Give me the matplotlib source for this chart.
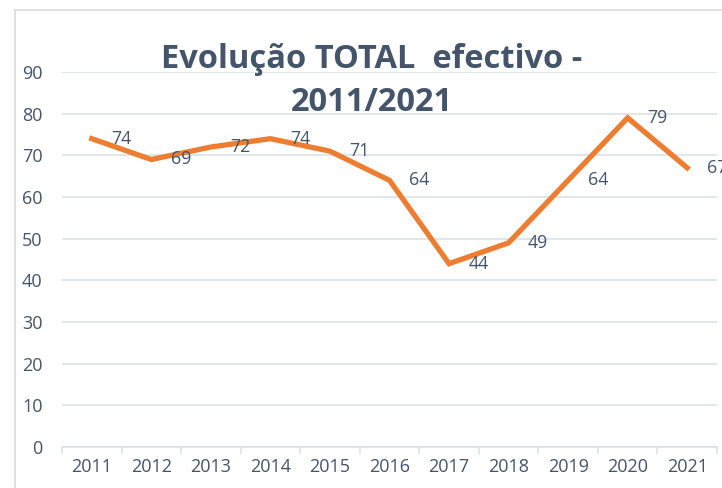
import matplotlib
matplotlib.use("Agg")
import matplotlib.pyplot as plt
from matplotlib.lines import Line2D

years = ["2011", "2012", "2013", "2014", "2015", "2016", "2017", "2018", "2019", "2020", "2021"]
efectivo = [74, 69, 72, 74, 71, 64, 44, 49, 64, 79, 67]
y_ticks = [0, 10, 20, 30, 40, 50, 60, 70, 80, 90]

TEXT = "#44546A"
GRID = "#DCE1E8"
ORANGE = "#ED7D31"

plt.rcParams["font.family"] = ["Open Sans", "DejaVu Sans"]

fig = plt.figure(figsize=(7.22, 4.88), dpi=100)
ax = fig.add_axes([62 / 722, 1 - 447 / 488, (717 - 62) / 722, (447 - 72) / 488])

x = list(range(len(years)))
ax.plot(x, efectivo, color=ORANGE, linewidth=3.8, solid_joinstyle="miter", zorder=3)

# data labels to the right of each point (last one runs off the edge, as in the original)
for xi, v in zip(x, efectivo):
    ax.annotate(str(v), xy=(xi, v), xytext=(14, 0), textcoords="offset points",
                ha="left", va="center", fontsize=12.8, color=TEXT, zorder=4,
                annotation_clip=False)

ax.set_xlim(-0.5, len(years) - 0.5)
ax.set_ylim(0, 90)
ax.set_yticks(y_ticks)
ax.set_xticks(x)
ax.set_xticklabels(years)
ax.set_xticks([i - 0.5 for i in range(len(years) + 1)], minor=True)

ax.grid(axis="y", color=GRID, linewidth=1.2, zorder=0)
ax.set_axisbelow(True)
for s in ("left", "right", "top"):
    ax.spines[s].set_visible(False)
ax.spines["bottom"].set_color(GRID)
ax.spines["bottom"].set_linewidth(1.2)

ax.tick_params(axis="y", length=0, pad=14, labelsize=13, labelcolor=TEXT)
ax.tick_params(axis="x", which="major", length=0, pad=8, labelsize=13, labelcolor=TEXT)
ax.tick_params(axis="x", which="minor", length=5, width=1.2, color=GRID)

# title sits over the top gridlines
fig.text(372 / 722, 1 - 81 / 488, "Evolução TOTAL  efectivo -\n2011/2021",
         ha="center", va="center", fontsize=23.5, fontweight="bold", color=TEXT,
         linespacing=1.38, zorder=5)

# chart area border (cropped at right/bottom)
fig.add_artist(Line2D([15 / 722, 15 / 722], [0, 1 - 10 / 488], color="#D9D9D9", lw=1.2,
                      transform=fig.transFigure))
fig.add_artist(Line2D([15 / 722, 1], [1 - 10 / 488, 1 - 10 / 488], color="#D9D9D9", lw=1.2,
                      transform=fig.transFigure))

fig.savefig("out.png", dpi=100)
